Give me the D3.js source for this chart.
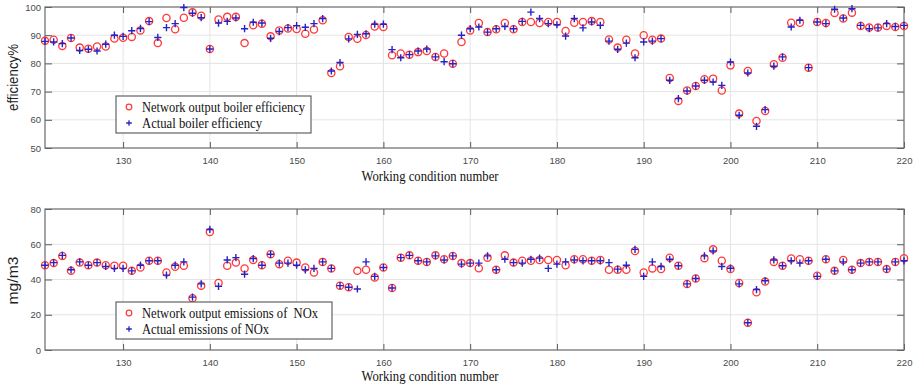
<!DOCTYPE html>
<html>
<head>
<meta charset="utf-8">
<script src="https://cdn.jsdelivr.net/npm/d3@7"></script>
<style>
  html, body { margin: 0; padding: 0; background: #fff; }
  svg { display: block; }
  .tick text { font-family: "Liberation Sans", Arial, sans-serif; font-size: 9.5px; fill: #4a4a4a; }
  .tick line { stroke: #5a5a5a; }
  .domain { display: none; }
</style>
</head>
<body>
<svg id="chart" width="918" height="387"></svg>
<script>
// Working condition numbers on the shared x axis
const conditionNumbers = d3.range(121, 221);
const xTicks = [130, 140, 150, 160, 170, 180, 190, 200, 210, 220];

// Boiler efficiency (%)
const efficiencyNetwork = [
  88, 88.4, 86.2, 89, 85.6, 85.2, 86, 86, 88.8, 89.1,
  89.4, 91.7, 95, 87.2, 96.1, 92.1, 96.2, 98.1, 96.9, 85.1,
  95.6, 96.5, 96.5, 87.2, 93.5, 94.1, 89.6, 91.7, 92.4, 92.2,
  90.5, 92, 95.3, 76.6, 79, 89.4, 88.7, 90.1, 93.1, 92.9,
  82.9, 83.5, 83.1, 84, 84.4, 82.3, 83.5, 79.9, 87.6, 91.7,
  94.3, 91.1, 92.1, 94.3, 92.1, 94.7, 94.7, 94.3, 94.7, 94.7,
  91.5, 94.4, 94.7, 95, 94.7, 88.5, 85.6, 88.4, 83.5, 90,
  88.4, 88.8, 74.8, 66.7, 70.4, 72, 74.4, 74.6, 70.4, 79.3,
  62.2, 77.3, 59.6, 63.1, 79.7, 82, 94.4, 94.4, 78.5, 94.7,
  94.3, 97.9, 95.9, 98, 93.3, 92.7, 92.7, 93.3, 92.9, 93.3
];
const efficiencyActual = [
  87.8, 87.6, 87, 89, 84.6, 85, 84.4, 86.8, 90, 89.6,
  91.6, 92.4, 94.8, 89.2, 92.7, 94.1, 99.8, 97.8, 96.2, 85.1,
  94.3, 94.9, 96.1, 92.3, 94.6, 94.3, 88.9, 91.3, 92.7, 93.4,
  92.8, 94.1, 95.9, 77.3, 80.3, 88.7, 90.3, 90.5, 93.9, 93.9,
  84.9, 82, 83.1, 84.4, 85.1, 82.3, 80.6, 79.9, 90, 92.3,
  92.9, 91.1, 92.3, 93.1, 92.3, 94.9, 98.2, 95.9, 94.1, 93.7,
  89.7, 95.9, 92.6, 94.7, 93.5, 87.9, 85, 87.2, 82, 87.6,
  87.9, 88.8, 74, 67.5, 70.2, 72, 74, 73.4, 72.2, 80.5,
  61.6, 76.6, 57.7, 63.6, 79, 82.3, 92.9, 95.3, 78.5, 94.7,
  94.1, 99.2, 96.1, 99.4, 93.5, 92.3, 92.6, 94.1, 93.1, 93.5
];
const efficiencyTicks = [50, 60, 70, 80, 90, 100];

// NOx emissions (mg/m3)
const noxNetwork = [
  48.1, 49.3, 53.4, 44.9, 49.6, 48.1, 49.6, 48.1, 47.8, 47.8,
  44.9, 46.8, 50.6, 50.6, 44, 47.2, 47.8, 29.4, 36.5, 66.9,
  38, 47.8, 49.6, 46.3, 51.1, 48.1, 54.3, 48.7, 50.6, 49.6,
  46.8, 44, 50, 46.3, 36.5, 35.6, 44.9, 45.5, 41.2, 46.8,
  35.2, 52.4, 53.7, 50.6, 50, 53.7, 51.5, 53.4, 49.3, 49.3,
  46.4, 52.4, 45.5, 53.7, 49.6, 50.6, 50.6, 51.1, 51.1, 51.1,
  48.1, 51.5, 51.5, 50.6, 51.1, 45.5, 45.5, 45.5, 56.2, 44,
  46.3, 45.9, 52.4, 47.8, 37.5, 40.6, 52.1, 57.1, 50.6, 45.9,
  38, 15.5, 32.8, 38.8, 50, 47.8, 51.9, 51.5, 50.6, 42.1,
  51.5, 44.9, 51.1, 45.5, 49.3, 50, 50, 45.9, 50, 52.1
];
const noxActual = [
  48.1, 49.6, 53.7, 45.5, 50, 48.1, 49.6, 47.4, 46.3, 46.3,
  44.9, 48.1, 50.6, 50.6, 42.5, 48.1, 50, 30, 37.5, 68.4,
  36.1, 51.1, 52.4, 43, 51.9, 48.1, 54.3, 49.3, 49.3, 48.1,
  45.5, 46.3, 50, 46.3, 36.5, 35.6, 34.6, 50, 41.8, 46.8,
  35.2, 52.4, 53.7, 50.6, 50, 53.4, 51.1, 53.4, 48.7, 49.3,
  49.3, 53.4, 45.5, 51.5, 49.6, 49.3, 51.5, 52.1, 46.3, 48.7,
  50, 51.1, 50.6, 50.6, 50.6, 49.6, 45.9, 48.1, 57.1, 41.8,
  50, 47.4, 51.5, 47.8, 37.5, 40.6, 53.4, 56.2, 47.4, 46.4,
  37.5, 15.5, 34.3, 39.3, 51.1, 47.8, 50.6, 49.3, 50.6, 41.8,
  51.5, 44.9, 50, 45.5, 49.3, 50, 50, 45.9, 50, 50.6
];
const noxTicks = [0, 20, 40, 60, 80];

const RED = "#ff3838";
const BLUE = "#2323c8";
const plusPath = r => `M${-r},0H${r}M0,${-r}V${r}`;

const svg = d3.select("#chart");
const left = 45, right = 904;

const x = d3.scaleLinear().domain([121, 220]).range([left, right]);

function panel(opts) {
  const { top, bottom, yDomain, yTicks, network, actual, yLabel, yLabelFont, yLabelSize,
          yLabelX, xLabelY, legend } = opts;
  const y = d3.scaleLinear().domain(yDomain).range([bottom, top]);
  const g = svg.append("g");

  // grid
  g.append("g").selectAll("line").data(xTicks.filter(d => d < 220)).join("line")
    .attr("x1", d => x(d)).attr("x2", d => x(d)).attr("y1", top).attr("y2", bottom)
    .attr("stroke", "#e4e4e4").attr("stroke-width", 1);
  g.append("g").selectAll("line").data(yTicks.slice(1, -1)).join("line")
    .attr("x1", left).attr("x2", right).attr("y1", d => y(d)).attr("y2", d => y(d))
    .attr("stroke", "#e4e4e4").attr("stroke-width", 1);

  // axes with inward ticks on all four sides
  g.append("g").attr("transform", `translate(0,${bottom})`)
    .call(d3.axisBottom(x).tickValues(xTicks).tickSizeInner(-6).tickSizeOuter(0).tickPadding(9));
  g.append("g").attr("transform", `translate(0,${top})`)
    .call(d3.axisTop(x).tickValues(xTicks).tickSizeInner(-6).tickSizeOuter(0).tickFormat(""));
  g.append("g").attr("transform", `translate(${left},0)`)
    .call(d3.axisLeft(y).tickValues(yTicks).tickSizeInner(-7).tickSizeOuter(0).tickPadding(4));
  g.append("g").attr("transform", `translate(${right},0)`)
    .call(d3.axisRight(y).tickValues(yTicks).tickSizeInner(-7).tickSizeOuter(0).tickFormat(""));

  g.append("rect").attr("x", left).attr("y", top).attr("width", right - left).attr("height", bottom - top)
    .attr("fill", "none").attr("stroke", "#6a6a6a").attr("stroke-width", 1.2);

  // markers
  g.append("g").selectAll("circle").data(network).join("circle")
    .attr("cx", (d, i) => x(conditionNumbers[i])).attr("cy", d => y(d)).attr("r", 3.6)
    .attr("fill", "none").attr("stroke", RED).attr("stroke-width", 1.3);
  g.append("g").selectAll("path").data(actual).join("path")
    .attr("transform", (d, i) => `translate(${x(conditionNumbers[i])},${y(d)})`)
    .attr("d", plusPath(3.6)).attr("stroke", BLUE).attr("stroke-width", 1.4).attr("fill", "none");

  // legend
  const lg = g.append("g");
  lg.append("rect").attr("x", legend.x).attr("y", legend.y).attr("width", legend.w).attr("height", legend.h)
    .attr("fill", "#fff").attr("stroke", "#555").attr("stroke-width", 1.1);
  const rows = [legend.labels[0], legend.labels[1]];
  rows.forEach((t, i) => {
    const cy = legend.y + 11 + i * 16;
    if (i === 0) {
      lg.append("circle").attr("cx", legend.x + 13).attr("cy", cy).attr("r", 2.8)
        .attr("fill", "none").attr("stroke", RED).attr("stroke-width", 1.2);
    } else {
      lg.append("path").attr("transform", `translate(${legend.x + 13},${cy})`).attr("d", plusPath(2.8))
        .attr("stroke", BLUE).attr("stroke-width", 1.3);
    }
    lg.append("text").attr("x", legend.x + 26).attr("y", cy).attr("dy", "0.35em")
      .attr("font-family", "'Liberation Serif', 'Times New Roman', serif").attr("font-size", 14)
      .attr("fill", "#111").attr("textLength", legend.textLen[i]).attr("lengthAdjust", "spacingAndGlyphs")
      .style("white-space", "pre").text(t);
  });

  // axis titles
  svg.append("text").attr("transform", `translate(${yLabelX},${(top + bottom) / 2 + opts.yLabelShift}) rotate(-90)`)
    .attr("text-anchor", "middle").attr("font-family", yLabelFont).attr("font-size", yLabelSize)
    .attr("fill", "#222").attr("textLength", opts.yLabelLen).attr("lengthAdjust", "spacingAndGlyphs")
    .text(yLabel);
  svg.append("text").attr("x", 430).attr("y", xLabelY).attr("text-anchor", "middle")
    .attr("font-family", "'Liberation Serif', 'Times New Roman', serif").attr("font-size", 15)
    .attr("fill", "#111").attr("textLength", 137).attr("lengthAdjust", "spacingAndGlyphs")
    .text("Working condition number");
}

panel({
  top: 7, bottom: 148, yDomain: [50, 100], yTicks: efficiencyTicks,
  network: efficiencyNetwork, actual: efficiencyActual,
  yLabel: "efficiency%", yLabelFont: "'Liberation Sans', Arial, sans-serif", yLabelSize: 14,
  yLabelX: 18, yLabelShift: 0, yLabelLen: 67, xLabelY: 181,
  legend: { x: 116, y: 96, w: 195, h: 37,
            labels: ["Network output boiler efficiency", "Actual boiler efficiency"],
            textLen: [163, 120] }
});

panel({
  top: 209, bottom: 350, yDomain: [0, 80], yTicks: noxTicks,
  network: noxNetwork, actual: noxActual,
  yLabel: "mg/m3", yLabelFont: "'Liberation Sans', Arial, sans-serif", yLabelSize: 15,
  yLabelX: 18, yLabelShift: 1, yLabelLen: 48, xLabelY: 381,
  legend: { x: 116, y: 302, w: 216, h: 37,
            labels: ["Network output emissions of  NOx", "Actual emissions of NOx"],
            textLen: [176, 127] }
});
</script>
</body>
</html>
